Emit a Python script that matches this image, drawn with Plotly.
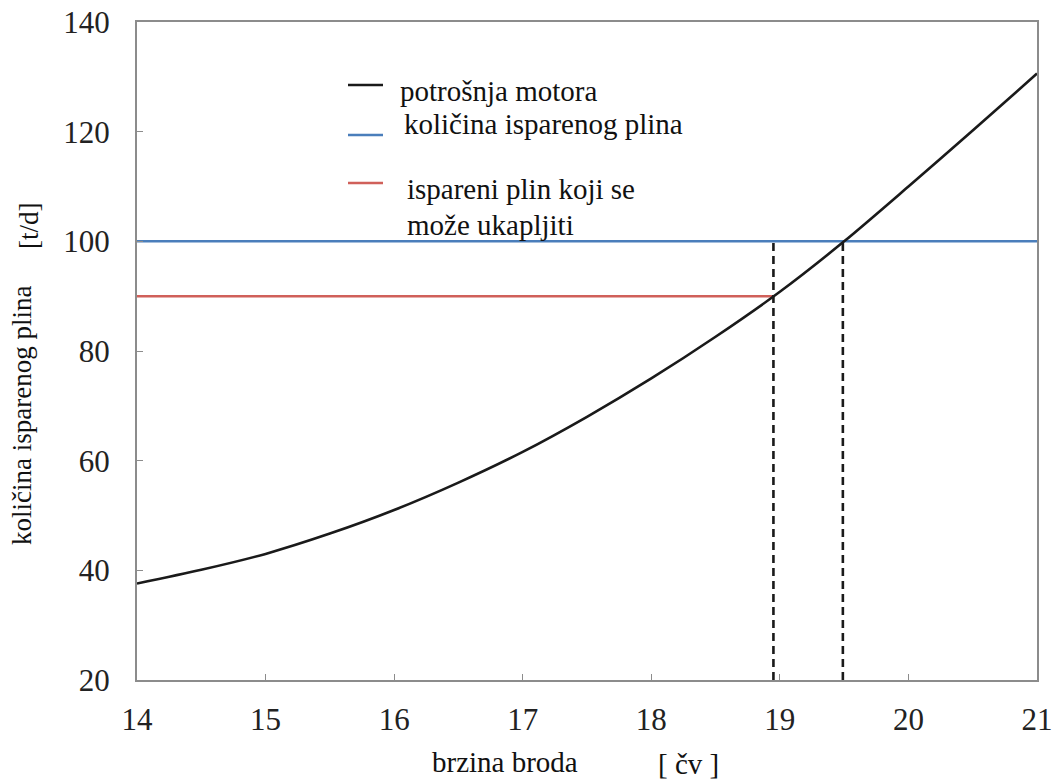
import plotly.graph_objects as go

# --- data ---
speed = [14, 14.5, 15, 15.5, 16, 16.5, 17, 17.5, 18, 18.5, 19, 19.5, 20, 20.5, 21]
engine_consumption = [37.6, 40.1, 43.0, 46.7, 51.0, 56.0, 61.6, 68.0, 75.0, 82.6, 90.8, 100.0, 110.0, 120.2, 130.6]

boil_off_x = [14, 21]
boil_off_y = [100, 100]

reliq_x = [14, 18.95]
reliq_y = [90, 90]

drop1_x = [18.95, 18.95]
drop2_x = [19.49, 19.49]
drop_y = [20, 100]

x_ticks = [14, 15, 16, 17, 18, 19, 20, 21]
y_ticks = [20, 40, 60, 80, 100, 120, 140]

legend_labels = ["potrošnja motora", "količina isparenog plina", "ispareni plin koji se", "može ukapljiti"]

BLACK = "#1a1a1a"
BLUE = "#4A7EBB"
RED = "#D0605A"
AXIS = "#8c8c8c"
FONT = "Liberation Serif"

fig = go.Figure()
fig.add_trace(go.Scatter(x=boil_off_x, y=boil_off_y, mode="lines",
                         line=dict(color=BLUE, width=2.5), showlegend=False, hoverinfo="skip"))
fig.add_trace(go.Scatter(x=reliq_x, y=reliq_y, mode="lines",
                         line=dict(color=RED, width=2.5), showlegend=False, hoverinfo="skip"))
fig.add_trace(go.Scatter(x=drop1_x, y=drop_y, mode="lines",
                         line=dict(color=BLACK, width=2.6, dash="8px,5px"), showlegend=False, hoverinfo="skip"))
fig.add_trace(go.Scatter(x=drop2_x, y=drop_y, mode="lines",
                         line=dict(color=BLACK, width=2.6, dash="8px,5px"), showlegend=False, hoverinfo="skip"))
fig.add_trace(go.Scatter(x=speed, y=engine_consumption, mode="lines",
                         line=dict(color=BLACK, width=2.6, shape="spline", smoothing=0.8),
                         showlegend=False, hoverinfo="skip"))

# target pixel geometry in the 1063x784 window
W, H = 1063, 784
PL, PR, PT, PB = 137, 1037, 22, 680
L, R, T, B = PL, W - PR, PT, H - PB
PW, PH = PR - PL, PB - PT


def px(xp):
    return (xp - PL) / PW


def py(yp):
    return (PB - yp) / PH


# manual legend
leg_lines = [(348, 383, 85, BLACK), (348, 383, 135, BLUE), (348, 383, 183, RED)]
shapes = []
for x0, x1, yy, c in leg_lines:
    shapes.append(dict(type="line", xref="paper", yref="paper",
                       x0=px(x0), x1=px(x1), y0=py(yy), y1=py(yy),
                       line=dict(color=c, width=2.5)))

annotations = []
leg_text_pos = [(398, 91), (402, 124), (405, 189), (405, 225)]
for label, (tx, ty) in zip(legend_labels, leg_text_pos):
    annotations.append(dict(text=label, xref="paper", yref="paper", x=px(tx), y=py(ty),
                            xanchor="left", yanchor="middle", showarrow=False,
                            font=dict(family=FONT, size=29, color="#111111")))

# axis titles
annotations.append(dict(text="brzina broda", xref="paper", yref="paper", x=px(505), y=py(762),
                        xanchor="center", yanchor="middle", showarrow=False,
                        font=dict(family=FONT, size=29, color="#111111")))
annotations.append(dict(text="[ čv ]", xref="paper", yref="paper", x=px(688), y=py(764),
                        xanchor="center", yanchor="middle", showarrow=False,
                        font=dict(family=FONT, size=29, color="#111111")))
annotations.append(dict(text="količina isparenog plina", xref="paper", yref="paper", x=px(22), y=py(416),
                        xanchor="center", yanchor="middle", showarrow=False, textangle=-90,
                        font=dict(family=FONT, size=27, color="#111111")))
annotations.append(dict(text="[t/d]", xref="paper", yref="paper", x=px(29), y=py(226),
                        xanchor="center", yanchor="middle", showarrow=False, textangle=-90,
                        font=dict(family=FONT, size=27, color="#111111")))

fig.update_layout(
    width=W, height=H,
    margin=dict(l=L, r=R, t=T, b=B, pad=0, autoexpand=False),
    paper_bgcolor="white", plot_bgcolor="white",
    font=dict(family=FONT, color="#111111"),
    shapes=shapes, annotations=annotations,
    showlegend=False,
)
fig.update_xaxes(range=[14, 21], tickvals=x_ticks, ticks="inside", ticklen=6, tickcolor=AXIS,
                 showline=True, linecolor=AXIS, linewidth=2, mirror=True, showgrid=False, zeroline=False,
                 automargin=False,
                 tickfont=dict(family=FONT, size=31, color="#222222"), ticklabelstandoff=11)
fig.update_yaxes(range=[20, 140], tickvals=y_ticks, ticks="inside", ticklen=6, tickcolor=AXIS,
                 showline=True, linecolor=AXIS, linewidth=2, mirror=True, showgrid=False, zeroline=False,
                 automargin=False,
                 tickfont=dict(family=FONT, size=31, color="#222222"), ticklabelstandoff=19)

fig.write_html("out.html", config={"displayModeBar": False},
               post_script="document.body.style.margin='0px';")
